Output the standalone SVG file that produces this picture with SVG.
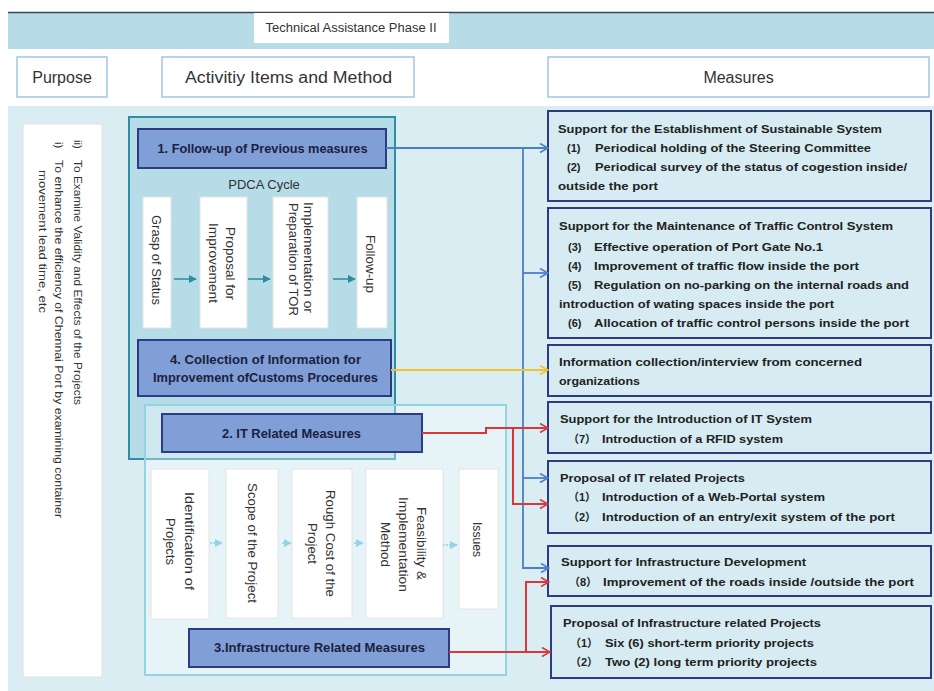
<svg xmlns="http://www.w3.org/2000/svg" width="934" height="691" viewBox="0 0 934 691">
<defs>
<style>
.hdr{font-family:"Liberation Sans",sans-serif;font-size:16px;fill:#333}
.tt{font-family:"Liberation Sans",sans-serif;font-size:12.5px;fill:#333}
.m{font-family:"Liberation Sans","Noto Sans CJK JP",sans-serif;font-size:11px;font-weight:bold;fill:#222}
.bt{font-family:"Liberation Sans",sans-serif;font-size:12px;font-weight:bold;fill:#1c2140}
.v{font-family:"Liberation Sans",sans-serif;font-size:13px;fill:#333}
.p{font-family:"Liberation Sans",sans-serif;font-size:11.5px;fill:#333}
.hbox{fill:#fff;stroke:#9fc6e4;stroke-width:1.5}
.dbox{fill:#7f9fd6;stroke:#2c3b82;stroke-width:2}
.mbox{fill:#d6ebf2;stroke:#2c3b82;stroke-width:2}
.wbox{fill:#fff;stroke:#e4e4e4;stroke-width:1}
</style>
<marker id="ab" viewBox="0 0 10 10" refX="9" refY="5" markerUnits="userSpaceOnUse" markerWidth="10" markerHeight="11" orient="auto"><path d="M1,0.5 L9,5 L1,9.5" fill="none" stroke="#4a7fc9" stroke-width="1.6"/></marker>
<marker id="ar" viewBox="0 0 10 10" refX="9" refY="5" markerUnits="userSpaceOnUse" markerWidth="10" markerHeight="11" orient="auto"><path d="M1,0.5 L9,5 L1,9.5" fill="none" stroke="#d9383a" stroke-width="1.6"/></marker>
<marker id="ay" viewBox="0 0 10 10" refX="9" refY="5" markerUnits="userSpaceOnUse" markerWidth="10" markerHeight="11" orient="auto"><path d="M1,0.5 L9,5 L1,9.5" fill="none" stroke="#f2c12e" stroke-width="1.6"/></marker>
<marker id="at" viewBox="0 0 10 10" refX="9" refY="5" markerUnits="userSpaceOnUse" markerWidth="8" markerHeight="9" orient="auto"><path d="M0,0 L10,5 L0,10 Z" fill="#2e8ba0"/></marker>
<marker id="al" viewBox="0 0 10 10" refX="9" refY="5" markerUnits="userSpaceOnUse" markerWidth="8" markerHeight="9" orient="auto"><path d="M0,0 L10,5 L0,10 Z" fill="#96d2e6"/></marker>
</defs>
<rect x="0" y="0" width="934" height="691" fill="#fff"/>
<!-- header band -->
<g id="header">
<rect x="8" y="12" width="926" height="37" fill="#b5dce7"/>
<line x1="8" y1="12.5" x2="934" y2="12.5" stroke="#3a4656" stroke-width="1.5"/>
<rect x="254" y="13" width="195" height="30" fill="#fff"/>
<text class="tt" x="265.5" y="32" textLength="171" lengthAdjust="spacingAndGlyphs">Technical Assistance Phase II</text>
</g>
<g id="col-purpose"><rect class="hbox" x="17" y="57" width="90" height="40"/><text class="hdr" x="62" y="83" text-anchor="middle">Purpose</text></g>
<g id="col-activity"><rect class="hbox" x="162" y="57" width="252" height="40"/><text class="hdr" x="185" y="83" textLength="207" lengthAdjust="spacingAndGlyphs">Activitiy Items and Method</text></g>
<g id="col-measures"><rect class="hbox" x="548" y="57" width="381" height="40"/><text class="hdr" x="738.5" y="83" text-anchor="middle">Measures</text></g>
<!-- main background -->
<rect x="8" y="106" width="926" height="585" fill="#d9edf3"/>
<g id="purpose">
<rect x="23" y="124" width="79" height="553" fill="#fff" stroke="#e2e2e2" stroke-width="1"/>
<g transform="rotate(90)">
<text class="p" x="140" y="-74">ii)</text>
<text class="p" x="160" y="-74" textLength="245" lengthAdjust="spacingAndGlyphs">To Examine Validity and Effects of the Projects</text>
<text class="p" x="142" y="-55">i)</text>
<text class="p" x="160" y="-55" textLength="358" lengthAdjust="spacingAndGlyphs">To enhance the efficiency of Chennai Port  by examining container</text>
<text class="p" x="170" y="-39" textLength="143" lengthAdjust="spacingAndGlyphs">movement  lead time, etc</text>
</g>
</g>
<!-- follow-up group -->
<g id="group-followup">
<rect x="129" y="117" width="266" height="342" fill="#b5dce7" stroke="#2f8ea3" stroke-width="2"/>
<text class="v" x="264" y="189" text-anchor="middle">PDCA Cycle</text>
</g>
<g id="n1"><rect class="dbox" x="138" y="129" width="248" height="39"/><text class="bt" x="157.5" y="153" textLength="210" lengthAdjust="spacingAndGlyphs">1. Follow-up of Previous measures</text></g>
<g id="pdca-grasp"><rect class="wbox" x="143" y="197" width="28" height="131"/><text class="v" transform="rotate(90)" x="215" y="-152" textLength="90" lengthAdjust="spacingAndGlyphs">Grasp of Status</text></g>
<g id="pdca-proposal"><rect class="wbox" x="200" y="197" width="47" height="131"/><g transform="rotate(90)"><text class="v" x="227" y="-226" textLength="73" lengthAdjust="spacingAndGlyphs">Proposal for</text><text class="v" x="223" y="-209" textLength="80" lengthAdjust="spacingAndGlyphs">Improvement</text></g></g>
<g id="pdca-impl"><rect class="wbox" x="273" y="197" width="55" height="131"/><g transform="rotate(90)"><text class="v" x="202" y="-304" textLength="111" lengthAdjust="spacingAndGlyphs">Implementation  or</text><text class="v" x="203" y="-289" textLength="113" lengthAdjust="spacingAndGlyphs">Preparation of TOR</text></g></g>
<g id="pdca-follow"><rect class="wbox" x="357" y="197" width="30" height="131"/><text class="v" transform="rotate(90)" x="235" y="-366" textLength="58" lengthAdjust="spacingAndGlyphs">Follow-up</text></g>
<g id="n4"><rect class="dbox" x="138" y="340" width="253" height="56"/><text class="bt" x="170" y="364" textLength="191" lengthAdjust="spacingAndGlyphs">4. Collection of Information for</text><text class="bt" x="153" y="382" textLength="225" lengthAdjust="spacingAndGlyphs">Improvement ofCustoms Procedures</text></g>
<!-- IT group -->
<g id="group-it">
<rect x="145" y="405" width="361" height="270" fill="#ffffff" fill-opacity="0.35" stroke="#93d3e3" stroke-width="2"/>
</g>
<g id="n2"><rect class="dbox" x="162" y="414" width="260" height="38"/><text class="bt" x="222" y="438" textLength="139" lengthAdjust="spacingAndGlyphs">2. IT Related  Measures</text></g>
<g id="it-ident"><rect class="wbox" x="151" y="469" width="58" height="150"/><g transform="rotate(90)"><text class="v" x="492" y="-185" textLength="98" lengthAdjust="spacingAndGlyphs">Identification of</text><text class="v" x="518" y="-166" textLength="47" lengthAdjust="spacingAndGlyphs">Projects</text></g></g>
<g id="it-scope"><rect class="wbox" x="226" y="469" width="52" height="149"/><text class="v" transform="rotate(90)" x="483" y="-248" textLength="120" lengthAdjust="spacingAndGlyphs">Scope of the Project</text></g>
<g id="it-cost"><rect class="wbox" x="292" y="469" width="60" height="149"/><g transform="rotate(90)"><text class="v" x="490" y="-326" textLength="107" lengthAdjust="spacingAndGlyphs">Rough Cost of the</text><text class="v" x="523" y="-308" textLength="41" lengthAdjust="spacingAndGlyphs">Project</text></g></g>
<g id="it-feas"><rect class="wbox" x="366" y="469" width="77" height="149"/><g transform="rotate(90)"><text class="v" x="507" y="-417" textLength="73" lengthAdjust="spacingAndGlyphs">Feasibility  &amp;</text><text class="v" x="497" y="-399" textLength="95" lengthAdjust="spacingAndGlyphs">Implementation</text><text class="v" x="522" y="-381" textLength="45" lengthAdjust="spacingAndGlyphs">Method</text></g></g>
<g id="it-issues"><rect class="wbox" x="459" y="469" width="39" height="140"/><text class="v" transform="rotate(90)" x="522" y="-473" textLength="35" lengthAdjust="spacingAndGlyphs">Issues</text></g>
<g id="n3"><rect class="dbox" x="189" y="629" width="260" height="38"/><text class="bt" x="214" y="652" textLength="211" lengthAdjust="spacingAndGlyphs">3.Infrastructure  Related  Measures</text></g>
<!-- measures -->
<g id="m1"><rect class="mbox" x="548" y="111" width="383" height="90"/>
<text class="m" x="558" y="133" textLength="324" lengthAdjust="spacingAndGlyphs">Support for the Establishment of Sustainable System</text>
<text class="m" x="567" y="152">(1)</text><text class="m" x="595" y="152" textLength="276" lengthAdjust="spacingAndGlyphs">Periodical holding of the Steering Committee</text>
<text class="m" x="567" y="171">(2)</text><text class="m" x="595" y="171" textLength="312" lengthAdjust="spacingAndGlyphs">Periodical survey of the status of cogestion  inside/</text>
<text class="m" x="558" y="190" textLength="100" lengthAdjust="spacingAndGlyphs">outside the port</text></g>
<g id="m2"><rect class="mbox" x="548" y="208" width="383" height="130"/>
<text class="m" x="559" y="230" textLength="334" lengthAdjust="spacingAndGlyphs">Support for the Maintenance of Traffic Control System</text>
<text class="m" x="568" y="251">(3)</text><text class="m" x="594" y="251" textLength="229" lengthAdjust="spacingAndGlyphs">Effective operation of Port Gate No.1</text>
<text class="m" x="568" y="270">(4)</text><text class="m" x="594" y="270" textLength="265" lengthAdjust="spacingAndGlyphs">Improvement of traffic flow inside the port</text>
<text class="m" x="568" y="289">(5)</text><text class="m" x="594" y="289" textLength="315" lengthAdjust="spacingAndGlyphs">Regulation on no-parking on the internal roads and</text>
<text class="m" x="559" y="308" textLength="275" lengthAdjust="spacingAndGlyphs">introduction of wating spaces inside the port</text>
<text class="m" x="568" y="327">(6)</text><text class="m" x="594" y="327" textLength="315" lengthAdjust="spacingAndGlyphs">Allocation of traffic control persons  inside the port</text></g>
<g id="m3"><rect class="mbox" x="548" y="345" width="383" height="51"/>
<text class="m" x="559" y="366" textLength="303" lengthAdjust="spacingAndGlyphs">Information collection/interview from concerned</text>
<text class="m" x="559" y="385" textLength="81" lengthAdjust="spacingAndGlyphs">organizations</text></g>
<g id="m4"><rect class="mbox" x="548" y="402" width="383" height="51"/>
<text class="m" x="560" y="423" textLength="252" lengthAdjust="spacingAndGlyphs">Support for the Introduction of IT System</text>
<text class="m" x="568" y="443">（7）</text><text class="m" x="602" y="443" textLength="181" lengthAdjust="spacingAndGlyphs">Introduction  of a RFID system</text></g>
<g id="m5"><rect class="mbox" x="548" y="461" width="383" height="72"/>
<text class="m" x="560" y="482" textLength="185" lengthAdjust="spacingAndGlyphs">Proposal of IT related  Projects</text>
<text class="m" x="568" y="501">（1）</text><text class="m" x="602" y="501" textLength="223" lengthAdjust="spacingAndGlyphs">Introduction  of a Web-Portal system</text>
<text class="m" x="568" y="521">（2）</text><text class="m" x="602" y="521" textLength="293" lengthAdjust="spacingAndGlyphs">Introduction  of an entry/exit system of the port</text></g>
<g id="m6"><rect class="mbox" x="548" y="546" width="383" height="50"/>
<text class="m" x="561" y="566" textLength="245" lengthAdjust="spacingAndGlyphs">Support for Infrastructure  Development</text>
<text class="m" x="569" y="586">（8）</text><text class="m" x="603" y="586" textLength="311" lengthAdjust="spacingAndGlyphs">Improvement of the roads inside /outside the port</text></g>
<g id="m7"><rect class="mbox" x="551" y="606" width="380" height="72"/>
<text class="m" x="563" y="627" textLength="258" lengthAdjust="spacingAndGlyphs">Proposal of Infrastructure  related Projects</text>
<text class="m" x="570" y="647">（1）</text><text class="m" x="605" y="647" textLength="209" lengthAdjust="spacingAndGlyphs">Six (6) short-term priority projects</text>
<text class="m" x="570" y="666">（2）</text><text class="m" x="605" y="666" textLength="212" lengthAdjust="spacingAndGlyphs">Two (2) long term priority  projects</text></g>
<!-- connectors -->
<g id="connectors" fill="none">
<g stroke="#2e8ba0" stroke-width="1.5">
<path d="M174,279 H196" marker-end="url(#at)"/>
<path d="M248,279 H270" marker-end="url(#at)"/>
<path d="M333,279 H355" marker-end="url(#at)"/>
</g>
<g stroke="#96d2e6" stroke-width="1.5" stroke-dasharray="2,1">
<path d="M210,543 H222" marker-end="url(#al)"/>
<path d="M282,543 H291" marker-end="url(#al)"/>
<path d="M354,543 H363" marker-end="url(#al)"/>
<path d="M443,545 H457" marker-end="url(#al)"/>
</g>
<g stroke="#4a7fc9" stroke-width="1.8">
<path d="M386,148 H548" marker-end="url(#ab)"/>
<path d="M523,148 V568 H549" marker-end="url(#ab)"/>
<path d="M523,273 H548" marker-end="url(#ab)"/>
<path d="M523,478 H548" marker-end="url(#ab)"/>
</g>
<path d="M391,370 H548" stroke="#f2c12e" stroke-width="2" marker-end="url(#ay)"/>
<g stroke="#d9383a" stroke-width="2">
<path d="M422,433 H486 V428 H548" marker-end="url(#ar)"/>
<path d="M513,428 V504 H548" marker-end="url(#ar)"/>
<path d="M449,652 H550" marker-end="url(#ar)"/>
<path d="M526,652 V582 H549" marker-end="url(#ar)"/>
</g>
</g>
</svg>
